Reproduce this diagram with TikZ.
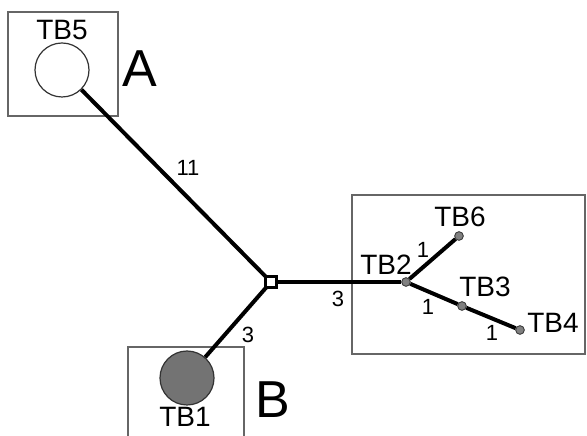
\documentclass[tikz,border=0pt]{standalone}
\usepackage{fontspec}
\setmainfont{Liberation Sans}
\begin{document}
\begin{tikzpicture}[x=1pt,y=1pt,
  grpbox/.style={draw=black!60, line width=1.1pt},
  branch/.style={line width=4pt, black},
  tb/.style={font=\fontsize{28}{28}\selectfont, inner sep=0pt},
  num/.style={font=\fontsize{22}{22}\selectfont, inner sep=0pt},
  big/.style={font=\fontsize{52}{52}\selectfont, inner sep=0pt},
  dot/.style={circle, draw=black!75, fill=black!50, line width=0.8pt, minimum size=8.5pt, inner sep=0pt},
  hap/.style={circle, draw=black!80, line width=1.2pt, minimum size=54pt, inner sep=0pt}]
\useasboundingbox (0,0) rectangle (587,436);
% boxes
\draw[grpbox] (8,320) rectangle (118,424);
\draw[grpbox] (352,82) rectangle (585,241);
\draw[grpbox] (128,-5) -- (128,89) -- (244,89) -- (244,-5);
% nodes
\node[hap, fill=white] (tb5) at (62,366) {};
\node[hap, fill=black!55] (tb1) at (187,58) {};
\coordinate (J) at (271,154);
\node[dot] (tb2) at (406,154) {};
\node[dot] (tb6) at (459,200) {};
\node[dot] (tb3) at (462,130) {};
\node[dot] (tb4) at (520,106) {};
% branches
\draw[branch] (tb5) -- (J);
\draw[branch] (tb1) -- (J);
\draw[branch] (J) -- (tb2);
\draw[branch] (tb2) -- (tb6);
\draw[branch] (tb2) -- (tb3);
\draw[branch] (tb3) -- (tb4);
\node[dot] at (tb2) {};
\node[dot] at (tb6) {};
\node[dot] at (tb3) {};
\node[dot] at (tb4) {};
\node[draw=black, fill=white, line width=3pt, minimum size=11pt, inner sep=0pt] (jn) at (J) {};
% labels
\node[tb] (l5) at (62,406) {TB5};
\node[tb] (l1) at (185,19) {TB1};
\node[tb] (l6) at (460,219) {TB6};
\node[tb] (l2) at (386,171) {TB2};
\node[tb] (l3) at (485,149) {TB3};
\node[tb] (l4) at (553,113) {TB4};
\node[big] (la) at (140,367) {A};
\node[big] (lb) at (273,36) {B};
\node[num] (n11) at (188,268) {11};
\node[num] (n3a) at (248,101) {3};
\node[num] (n3b) at (338,137) {3};
\node[num] (n1a) at (423,186) {1};
\node[num] (n1b) at (428,129) {1};
\node[num] (n1c) at (492,103) {1};
\end{tikzpicture}
\end{document}
